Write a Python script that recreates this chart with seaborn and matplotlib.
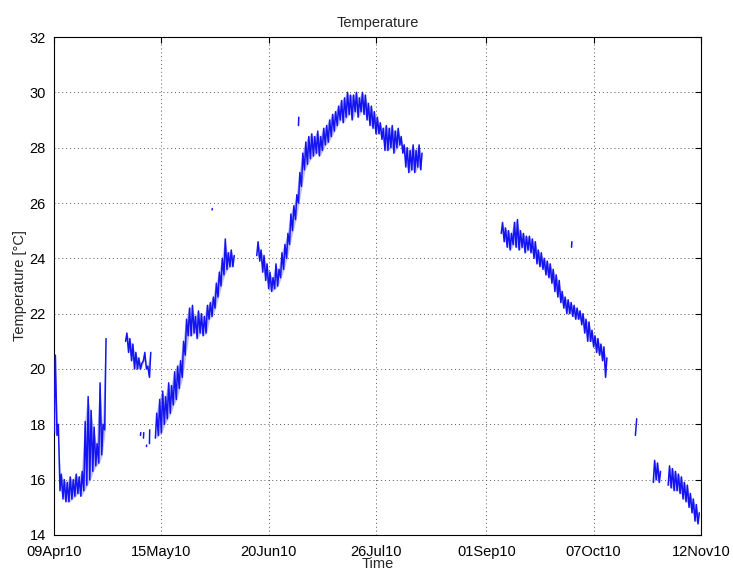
import numpy as np
import pandas as pd
import matplotlib
matplotlib.use("Agg")
import matplotlib.pyplot as plt
import seaborn as sns

# ---- data: daily min / max temperature (days after 09 Apr 2010)
days = [0, 1,
        2, 3, 4, 5, 6, 7, 8, 9, 10, 11, 12, 13, 14, 15, 16, 17,
        24, 25, 26, 27, 28, 29, 30, 31, 32,
        34, 35, 36, 37, 38, 39, 40, 41, 42, 43, 44, 45, 46, 47, 48, 49, 50, 51, 52, 53,
        54, 55, 56, 57, 58, 59, 60,
        68, 69, 70, 71, 72, 73, 74, 75, 76, 77, 78, 79, 80, 81, 82, 83, 84, 85, 86, 87,
        88, 89, 90, 91, 92, 93, 94, 95, 96, 97, 98, 99, 100, 101, 102, 103, 104, 105,
        106, 107, 108, 109, 110, 111, 112, 113, 114, 115, 116, 117, 118, 119, 120, 121,
        122, 123,
        150, 151, 152, 153, 154, 155, 156, 157, 158, 159, 160, 161, 162, 163, 164, 165,
        166, 167, 168, 169, 170, 171, 172, 173, 174, 175, 176, 177, 178, 179, 180, 181,
        182, 183, 184, 185,
        195,
        201, 202, 203,
        206, 207, 208, 209, 210, 211, 212, 213, 214, 215, 216]
t_min = [17.7, 17.6,
         15.6, 15.3, 15.2, 15.2, 15.3, 15.4, 15.5, 15.4, 15.6, 15.8, 16.0, 16.3, 16.5, 16.6, 16.9, 17.8,
         21.0, 20.6, 20.3, 20.0, 20.0, 20.0, 20.3, 20.0, 19.7,
         17.5, 17.6, 17.7, 18.0, 18.2, 18.4, 18.7, 18.9, 19.3, 19.7, 20.5, 21.2, 21.2, 21.3, 21.1, 21.3, 21.2, 21.3, 21.8, 21.9,
         22.2, 22.6, 23.0, 23.4, 23.6, 23.7, 23.7,
         24.1, 23.9, 23.5, 23.2, 22.9, 22.8, 22.9, 23.0, 23.3, 23.6, 24.0, 24.5, 25.0, 25.4, 26.0, 26.6, 27.2, 27.4, 27.6, 27.7,
         27.8, 27.7, 27.9, 28.1, 28.2, 28.4, 28.6, 28.8, 29.0, 28.9, 29.1, 29.2, 29.0, 29.3, 29.1, 29.3, 29.2, 29.0,
         28.8, 28.7, 28.5, 28.5, 28.3, 27.9, 27.9, 28.0, 27.8, 28.0, 28.1, 27.8, 27.3, 27.1, 27.2, 27.1,
         27.3, 27.2,
         24.9, 24.6, 24.4, 24.3, 24.5, 24.4, 24.3, 24.4, 24.2, 24.3, 24.2, 24.0, 23.8, 23.7, 23.6, 23.4,
         23.3, 23.1, 22.8, 22.6, 22.4, 22.2, 22.0, 22.0, 21.9, 21.8, 21.8, 21.6, 21.3, 21.0, 21.0, 20.8,
         20.6, 20.5, 20.3, 19.7,
         17.6,
         15.9, 16.0, 15.9,
         15.8, 15.7, 15.6, 15.6, 15.5, 15.3, 15.2, 15.0, 14.8, 14.5, 14.4]
t_max = [20.5, 18.0,
         16.2, 16.0, 15.9, 16.1, 16.0, 16.2, 16.1, 16.3, 18.1, 19.0, 18.5, 17.9, 17.3, 19.5, 18.0, 21.1,
         21.3, 21.1, 20.9, 20.6, 20.4, 20.2, 20.6, 20.1, 20.6,
         18.4, 18.9, 19.2, 19.0, 19.5, 19.4, 19.9, 20.1, 20.3, 21.0, 21.8, 22.2, 22.3, 21.9, 22.1, 22.0, 21.9, 22.3, 22.4, 22.6,
         23.1, 23.5, 24.0, 24.7, 24.2, 24.3, 24.1,
         24.6, 24.3, 24.1, 23.8, 23.5, 23.3, 23.8, 23.6, 24.2, 24.5, 24.9, 25.6, 25.9, 26.3, 27.1, 27.8, 28.2, 28.4, 28.5, 28.4,
         28.6, 28.4, 28.7, 28.8, 29.0, 29.2, 29.3, 29.5, 29.7, 29.8, 30.0, 29.9, 29.9, 30.0, 29.8, 30.0, 29.9, 29.6,
         29.5, 29.3, 29.1, 28.9, 28.7, 28.8, 28.7, 28.8, 28.6, 28.7, 28.4, 28.1, 28.0, 27.9, 28.1, 27.9,
         28.1, 27.8,
         25.3, 25.1, 25.0, 24.9, 25.3, 25.4, 25.0, 24.9, 24.8, 24.8, 24.7, 24.6, 24.3, 24.2, 24.0, 23.9,
         23.8, 23.6, 23.4, 23.2, 22.8, 22.6, 22.5, 22.4, 22.3, 22.2, 22.1, 22.0, 21.8, 21.7, 21.4, 21.2,
         21.1, 20.9, 20.8, 20.4,
         18.2,
         16.7, 16.6, 16.3,
         16.5, 16.4, 16.3, 16.2, 16.1, 15.9, 15.8, 15.5, 15.3, 15.1, 14.8]

# isolated readings
out_days = [29, 30, 31, 32, 53, 82, 173.6]
out_min = [17.6, 17.5, 17.2, 17.3, 25.75, 28.8, 24.4]
out_max = [17.7, 17.7, 17.25, 17.8, 25.8, 29.1, 24.6]

tick_labels = ["09Apr10", "15May10", "20Jun10", "26Jul10", "01Sep10", "07Oct10", "12Nov10"]
y_ticks = [14, 16, 18, 20, 22, 24, 26, 28, 30, 32]

start = pd.Timestamp("2010-04-09")

# build a table: each day gives a low point and a high point (zig-zag), segments split on gaps
rows = []
band = []
seg = 0
prev = None
for d, lo, hi in zip(days, t_min, t_max):
    if prev is not None and d - prev > 1:
        seg += 1
    rows.append((start + pd.Timedelta(days=d), lo, seg))
    rows.append((start + pd.Timedelta(days=d + 0.45), hi, seg))
    band.append((start + pd.Timedelta(days=d + 0.2), lo, hi, seg))
    prev = d
for d, lo, hi in zip(out_days, out_min, out_max):
    seg += 1
    rows.append((start + pd.Timedelta(days=d), lo, seg))
    rows.append((start + pd.Timedelta(days=d + 0.1), hi, seg))
df = pd.DataFrame(rows, columns=["time", "temp", "seg"])
bdf = pd.DataFrame(band, columns=["time", "lo", "hi", "seg"])

sns.set_theme(style="white")
plt.rcParams["font.family"] = ["Liberation Sans", "DejaVu Sans"]

fig = plt.figure(figsize=(7.33, 5.72), dpi=100)
ax = fig.add_axes([0.0737, 0.0647, 0.8826, 0.8706])

# light band between daily extremes (blur of the dense trace)
for s, g in bdf.groupby("seg"):
    if len(g) > 1:
        ax.fill_between(g["time"], g["lo"], g["hi"], color="#8c8cff", alpha=0.55,
                        linewidth=0, zorder=2)

sns.lineplot(data=df, x="time", y="temp", units="seg", estimator=None, sort=False,
             color="#1414f0", linewidth=1.1, ax=ax, legend=False, zorder=3)

tick_dates = [pd.Timestamp(pd.to_datetime(t, format="%d%b%y")) for t in tick_labels]
ax.set_xlim(tick_dates[0], tick_dates[-1])
ax.set_xticks(tick_dates)
ax.set_xticklabels(tick_labels)
ax.set_ylim(14, 32)
ax.set_yticks(y_ticks)

ax.grid(True, linestyle=(0, (1, 3)), color="#555555", linewidth=0.7)
ax.set_axisbelow(True)
for s in ax.spines.values():
    s.set_visible(True)
    s.set_color("black")
    s.set_linewidth(0.8)
ax.tick_params(direction="in", top=True, right=True, length=4, width=0.8,
               labelsize=10.5, colors="black")
ax.tick_params(axis="x", pad=7)
ax.tick_params(axis="y", pad=6)
ax.set_xlabel("Time", fontsize=10.5, labelpad=-1)
ax.set_ylabel("Temperature [\u00b0C]", fontsize=10.5, labelpad=2)
ax.set_title("Temperature", fontsize=10.5, pad=7)

fig.savefig("out.png", dpi=100)
